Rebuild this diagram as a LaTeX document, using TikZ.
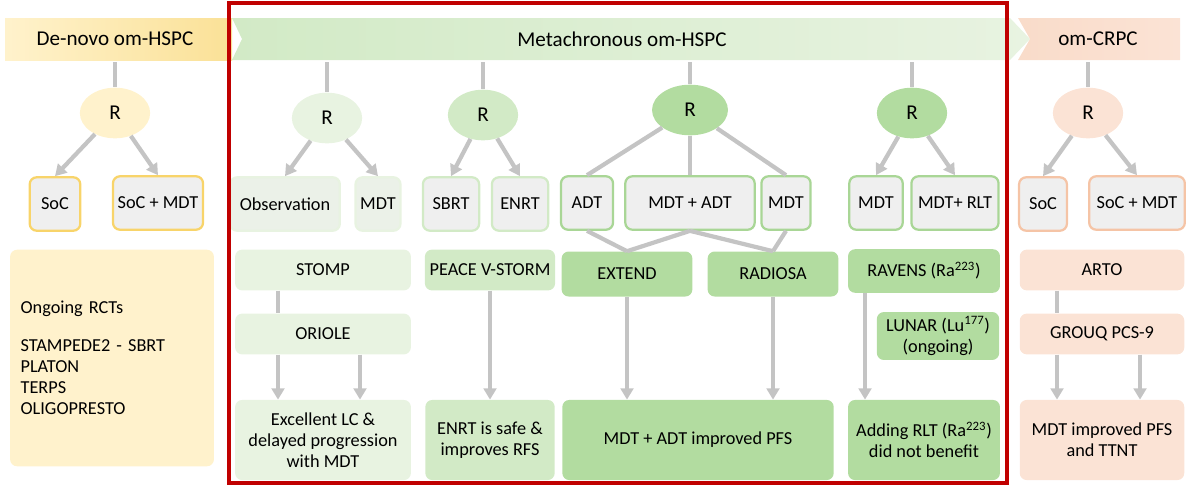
\documentclass[tikz,border=0pt]{standalone}
\usepackage{fontspec}
\setmainfont{Carlito}
\usetikzlibrary{shapes.geometric,arrows.meta}
\definecolor{yfill}{HTML}{FFF2CC}\definecolor{yline}{HTML}{F8D46A}
\definecolor{g1}{HTML}{E8F3E1}\definecolor{g2}{HTML}{D2EAC6}\definecolor{g3}{HTML}{B2DCA0}
\definecolor{gline}{HTML}{A9D696}
\definecolor{pfill}{HTML}{FBE3D5}\definecolor{pline}{HTML}{F5C4A6}
\definecolor{boxg}{HTML}{EFEFEF}\definecolor{arr}{HTML}{C4C4C4}
\definecolor{red}{HTML}{C00000}
\tikzset{
 bx/.style={rounded corners=5pt,line width=1.6pt,fill=boxg,font=\fontsize{13}{15}\selectfont,align=center},
 R/.style={ellipse,minimum width=50pt,minimum height=36pt,font=\fontsize{15}{17}\selectfont},
 tb/.style={rounded corners=5pt,font=\fontsize{13}{15}\selectfont,align=center,draw=none},
 ln/.style={draw=arr,line width=3pt},
 ar/.style={ln,-{Triangle[width=9pt,length=8pt]}},
}
\begin{document}
\begin{tikzpicture}[x=0.025cm,y=-0.025cm]
\useasboundingbox (0,0) rectangle (1200,488);
% headers
\shade[left color=yfill,right color=yline!70] (5,18) rectangle (232,60);
\node[font=\fontsize{15}{17}\selectfont] (hd) at (115,39) {De-novo om-HSPC};
\shade[left color=g2,right color=g1] (232,18) -- (1010,18) -- (1030,39) -- (1010,60) -- (232,60) -- (242,39) -- cycle;
\node[font=\fontsize{15}{17}\selectfont] (hm) at (622,39) {Metachronous om-HSPC};
\shade[left color=pline!60,right color=pfill] (1018,18) -- (1180,18) -- (1180,60) -- (1018,60) -- (1030,39) -- cycle;
\node[font=\fontsize{15}{17}\selectfont] (hc) at (1098,39) {om-CRPC};
% R nodes
\node[R,fill=yfill] (r0) at (115,113) {R};
\node[R,fill=g1] (r1) at (327,118) {R};
\node[R,fill=g2] (r2) at (483,115) {R};
\node[R,fill=g3,minimum width=54pt] (r3) at (690,110) {R};
\node[R,fill=g3] (r4) at (912,113) {R};
\node[R,fill=pfill] (r5) at (1088,113) {R};
\foreach \x/\r in {115/r0,327/r1,483/r2,690/r3,912/r4,1088/r5}
  \draw[ln] (\x,62) -- (\r);
% second row
\node[bx,draw=yline,minimum width=36pt,minimum height=38pt] (a1) at (55,204) {SoC};
\node[bx,draw=yline,minimum width=60pt,minimum height=38pt] (a2) at (158,203) {SoC + MDT};
\node[bx,draw=g1,fill=g1!50!boxg,minimum width=78pt,minimum height=38pt] (b1) at (285,204) {Observation};
\node[bx,draw=g1,fill=g1!50!boxg,minimum width=32pt,minimum height=38pt] (b2) at (378,204) {MDT};
\node[bx,draw=g2,minimum width=40pt,minimum height=38pt] (c1) at (451,204) {SBRT};
\node[bx,draw=g2,minimum width=40pt,minimum height=38pt] (c2) at (520,204) {ENRT};
\node[bx,draw=gline,minimum width=37pt,minimum height=38pt] (d1) at (587,203) {ADT};
\node[bx,draw=gline,minimum width=92pt,minimum height=38pt] (d2) at (690,203) {MDT + ADT};
\node[bx,draw=gline,minimum width=35pt,minimum height=38pt] (d3) at (786,203) {MDT};
\node[bx,draw=gline,minimum width=38pt,minimum height=38pt] (e1) at (876,203) {MDT};
\node[bx,draw=gline,minimum width=62pt,minimum height=38pt] (e2) at (955,203) {MDT+ RLT};
\node[bx,draw=pline,minimum width=34pt,minimum height=38pt] (f1) at (1043,204) {SoC};
\node[bx,draw=pline,minimum width=68pt,minimum height=38pt] (f2) at (1137,203) {SoC + MDT};
% R arrows
\draw[ar] (r0) -- (a1.north); \draw[ar] (r0) -- (a2.north);
\draw[ar] (r1) -- (b1.north); \draw[ar] (r1) -- (b2.north);
\draw[ar] (r2) -- (c1.north); \draw[ar] (r2) -- (c2.north);
\draw[ln] (r3) -- (d1.north); \draw[ln] (r3) -- (d2.north); \draw[ln] (r3) -- (d3.north);
\draw[ar] (r4) -- (e1.north); \draw[ar] (r4) -- (e2.north);
\draw[ar] (r5) -- (f1.north); \draw[ar] (r5) -- (f2.north);
% third row
\node[tb,fill=yfill,minimum width=145pt,minimum height=154pt,align=left,text width=130pt] (on) at (112,358)
 {Ongoing RCTs\\[12pt]STAMPEDE2 - SBRT\\PLATON\\TERPS\\OLIGOPRESTO};
\node[tb,fill=g1,minimum width=125pt,minimum height=29pt] (st) at (323,270) {STOMP};
\node[tb,fill=g1,minimum width=125pt,minimum height=29pt] (or) at (323,334) {ORIOLE};
\node[tb,fill=g2,minimum width=92pt,minimum height=29pt] (pv) at (490,270) {PEACE V-STORM};
\node[tb,fill=g3,minimum width=93pt,minimum height=32pt] (ex) at (627,274) {EXTEND};
\node[tb,fill=g3,minimum width=93pt,minimum height=32pt] (ra) at (773,274) {RADIOSA};
\node[tb,fill=g3,minimum width=108pt,minimum height=31pt] (rv) at (924,271) {RAVENS (Ra\textsuperscript{223})};
\node[tb,fill=g3,minimum width=87pt,minimum height=33pt] (lu) at (938,336) {LUNAR (Lu\textsuperscript{177})\\(ongoing)};
\node[tb,fill=pfill,minimum width=117pt,minimum height=29pt] (ar) at (1102,270) {ARTO};
\node[tb,fill=pfill,minimum width=117pt,minimum height=29pt] (gq) at (1102,334) {GROUQ PCS-9};
% bottom row
\node[tb,fill=g1,minimum width=125pt,minimum height=57pt] (o1) at (323,440) {Excellent LC \&\\delayed progression\\with MDT};
\node[tb,fill=g2,minimum width=92pt,minimum height=57pt] (o2) at (490,440) {ENRT is safe \&\\improves RFS};
\node[tb,fill=g3,minimum width=193pt,minimum height=57pt] (o3) at (698,440) {MDT + ADT improved PFS};
\node[tb,fill=g3,minimum width=108pt,minimum height=57pt] (o4) at (924,440) {Adding RLT (Ra\textsuperscript{223})\\did not benefit};
\node[tb,fill=pfill,minimum width=117pt,minimum height=57pt] (o5) at (1102,440) {MDT improved PFS\\and TTNT};
% V connectors
\draw[ln] (d1.south) -- (ex.north); \draw[ln] (d2.south) -- (ex.north);
\draw[ln] (d2.south) -- (ra.north); \draw[ln] (d3.south) -- (ra.north);
% vertical arrows
\draw[ln] (st.south -| 278,0) -- (or.north -| 278,0);
\draw[ar] (or.south -| 278,0) -- (o1.north -| 278,0);
\draw[ar] (or.south -| 360,0) -- (o1.north -| 360,0);
\draw[ar] (pv) -- (o2);
\draw[ar] (ex) -- (ex |- o3.north);
\draw[ar] (ra) -- (ra |- o3.north);
\draw[ar] (rv.south -| 865,0) -- (o4.north -| 865,0);
\draw[ln] (ar.south -| 1057,0) -- (gq.north -| 1057,0);
\draw[ar] (gq.south -| 1057,0) -- (o5.north -| 1057,0);
\draw[ar] (gq.south -| 1140,0) -- (o5.north -| 1140,0);
% red frame
\draw[red,line width=3.5pt] (229,3) rectangle (1007,483);
\end{tikzpicture}
\end{document}
